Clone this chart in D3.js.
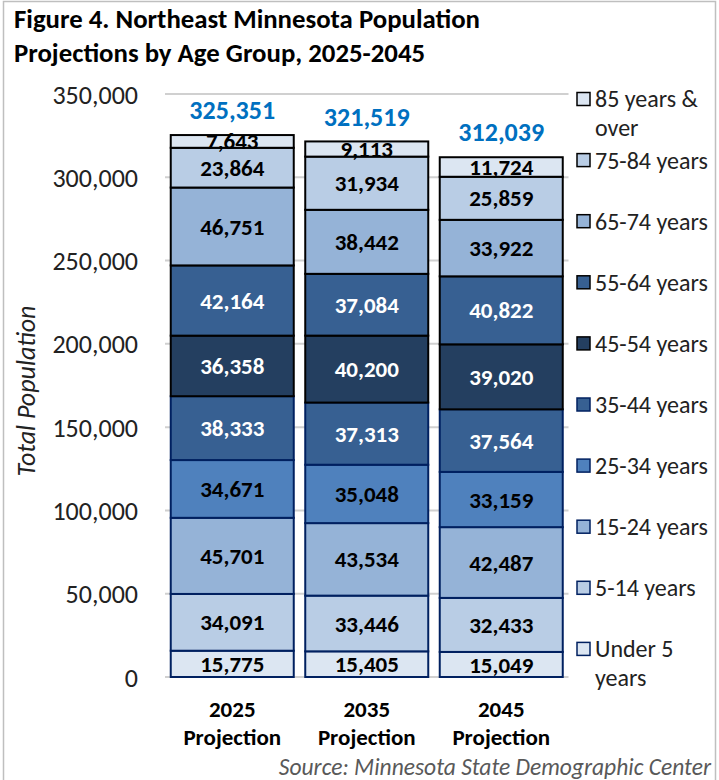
<!DOCTYPE html>
<html>
<head>
<meta charset="utf-8">
<script src="https://cdn.jsdelivr.net/npm/d3@7"></script>
<style>
  html, body { margin: 0; padding: 0; background: #fff; }
  svg { display: block; font-family: Carlito, Lato, "Noto Sans", sans-serif; }
</style>
</head>
<body>
<svg id="chart" width="719" height="780"></svg>
<script>
// ---- Data ----
const categories = ["2025 Projection", "2035 Projection", "2045 Projection"];
const ageGroups = ["Under 5 years", "5-14 years", "15-24 years", "25-34 years", "35-44 years",
                   "45-54 years", "55-64 years", "65-74 years", "75-84 years", "85 years & over"];
const under5   = [15775, 15405, 15049];
const age5_14  = [34091, 33446, 32433];
const age15_24 = [45701, 43534, 42487];
const age25_34 = [34671, 35048, 33159];
const age35_44 = [38333, 37313, 37564];
const age45_54 = [36358, 40200, 39020];
const age55_64 = [42164, 37084, 40822];
const age65_74 = [46751, 38442, 33922];
const age75_84 = [23864, 31934, 25859];
const age85up  = [7643, 9113, 11724];
const totals   = [325351, 321519, 312039];
const yTicks   = [0, 50000, 100000, 150000, 200000, 250000, 300000, 350000];

const seriesValues = [under5, age5_14, age15_24, age25_34, age35_44, age45_54, age55_64, age65_74, age75_84, age85up];
const fills   = ["#dce6f2", "#b9cde5", "#95b3d7", "#4f81bd", "#376092", "#243f60", "#376092", "#95b3d7", "#b9cde5", "#dce6f2"];
const strokes = ["#002060", "#002060", "#002060", "#002060", "#002060", "#000000", "#000000", "#000000", "#000000", "#000000"];
const labelColors = ["#000", "#000", "#000", "#000", "#fff", "#fff", "#fff", "#000", "#000", "#000"];
const legendLines = [["Under 5", "years"], ["5-14 years"], ["15-24 years"], ["25-34 years"], ["35-44 years"],
                     ["45-54 years"], ["55-64 years"], ["65-74 years"], ["75-84 years"], ["85 years &", "over"]];

// ---- Build table ----
const table = categories.map((c, i) => {
  const row = { category: c };
  ageGroups.forEach((g, k) => row[g] = seriesValues[k][i]);
  return row;
});
const stacked = d3.stack().keys(ageGroups)(table);

const svg = d3.select("#chart");

// border
svg.append("rect").attr("x", 3.5).attr("y", 1.5).attr("width", 712).attr("height", 800)
  .attr("fill", "none").attr("stroke", "#bfbfbf").attr("stroke-width", 1.5);

// title
const title = svg.append("text").attr("font-weight", "bold").attr("font-size", 26.8).attr("fill", "#000");
title.append("tspan").attr("x", 14).attr("y", 28).text("Figure 4. Northeast Minnesota Population");
title.append("tspan").attr("x", 14).attr("y", 62).text("Projections by Age Group, 2025-2045");

// scales
const y = d3.scaleLinear().domain([0, 350000]).range([677, 94]);
const x = d3.scaleBand().domain(categories).range([165, 568.5]).paddingInner(0.0855).paddingOuter(0.04275);

// gridlines
svg.append("g").selectAll("line").data(yTicks).join("line")
  .attr("x1", 165).attr("x2", 568.5)
  .attr("y1", d => y(d)).attr("y2", d => y(d))
  .attr("stroke", "#d0d0d0").attr("stroke-width", 2);

// y axis labels
const yAxis = d3.axisLeft(y).tickValues(yTicks).tickFormat(d3.format(",")).tickSize(0).tickPadding(0);
const yg = svg.append("g").attr("transform", "translate(138,0)").call(yAxis);
yg.select(".domain").remove();
yg.selectAll("text").attr("font-size", 26).attr("fill", "#222").attr("font-family", "Carlito, Lato, 'Noto Sans', sans-serif").attr("dy", "0.35em");

// y axis title
svg.append("text").attr("transform", "translate(35,391) rotate(-90)")
  .attr("text-anchor", "middle").attr("font-style", "italic").attr("font-size", 26).attr("fill", "#222")
  .text("Total Population");

// bars
const layers = svg.append("g").selectAll("g").data(stacked).join("g");
layers.selectAll("rect").data((d, k) => d.map(p => ({ p, k }))).join("rect")
  .attr("x", d => x(d.p.data.category))
  .attr("width", x.bandwidth())
  .attr("y", d => y(d.p[1]))
  .attr("height", d => y(d.p[0]) - y(d.p[1]))
  .attr("fill", d => fills[d.k])
  .attr("stroke", d => strokes[d.k])
  .attr("stroke-width", 2);

// segment labels
layers.selectAll("text").data((d, k) => d.map(p => ({ p, k }))).join("text")
  .attr("x", d => x(d.p.data.category) + x.bandwidth() / 2)
  .attr("y", d => (y(d.p[0]) + y(d.p[1])) / 2)
  .attr("dy", "0.35em")
  .attr("text-anchor", "middle").attr("font-weight", "bold").attr("font-size", 23)
  .attr("fill", d => labelColors[d.k])
  .text(d => d3.format(",")(d.p[1] - d.p[0]));

// totals
svg.append("g").selectAll("text").data(totals).join("text")
  .attr("x", (d, i) => x(categories[i]) + x.bandwidth() / 2)
  .attr("y", d => y(d) - 25)
  .attr("dy", "0.35em")
  .attr("text-anchor", "middle").attr("font-weight", "bold").attr("font-size", 26)
  .attr("fill", "#0070c0")
  .text(d => d3.format(",")(d));

// x labels
const xl = svg.append("g").selectAll("text").data(categories).join("text")
  .attr("text-anchor", "middle").attr("font-weight", "bold").attr("font-size", 23).attr("fill", "#000");
xl.each(function (d) {
  const parts = d.split(" ");
  const cx = x(d) + x.bandwidth() / 2;
  d3.select(this).append("tspan").attr("x", cx).attr("y", 717).text(parts[0]);
  d3.select(this).append("tspan").attr("x", cx).attr("y", 745).text(parts[1]);
});

// legend
const legend = svg.append("g");
const order = d3.range(ageGroups.length).reverse();
order.forEach((k, i) => {
  const cy = 99 + i * 61.1;
  legend.append("rect").attr("x", 577).attr("y", cy - 6.5).attr("width", 13).attr("height", 13)
    .attr("fill", fills[k]).attr("stroke", strokes[k]).attr("stroke-width", 1.5);
  const t = legend.append("text").attr("font-size", 24).attr("fill", "#222");
  legendLines[k].forEach((line, j) => {
    t.append("tspan").attr("x", 595).attr("y", cy + j * 29).attr("dy", "0.35em").text(line);
  });
});

// source
svg.append("text").attr("x", 711).attr("y", 775).attr("text-anchor", "end")
  .attr("font-style", "italic").attr("font-size", 23.5).attr("fill", "#595959")
  .text("Source: Minnesota State Demographic Center");
</script>
</body>
</html>
